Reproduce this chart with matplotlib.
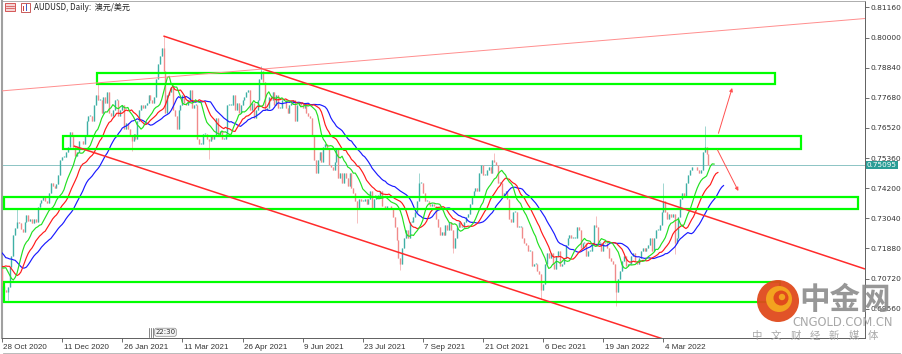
import matplotlib
matplotlib.use("Agg")
import matplotlib.pyplot as plt
from matplotlib.patches import Rectangle, Circle, FancyBboxPatch
import matplotlib.transforms as mtransforms
import numpy as np

plt.rcParams['font.family'] = ['DejaVu Sans']

# ---------------- data (daily closes) ----------------
pre_closes = [0.7230, 0.7160, 0.7150, 0.7080, 0.7080, 0.7060, 0.7030, 0.7130, 0.7110, 0.7140, 0.7110, 0.7120]

c_oct_dec20 = [0.7045, 0.7028, 0.7022, 0.7040, 0.7115, 0.7160, 0.7240, 0.7268, 0.7290, 0.7285,
               0.7262, 0.7252, 0.7290, 0.7318, 0.7292, 0.7300, 0.7288, 0.7302, 0.7290, 0.7348,
               0.7362, 0.7375, 0.7385, 0.7370, 0.7365, 0.7402, 0.7442, 0.7430, 0.7420, 0.7435,
               0.7470, 0.7530]
c_dec_jan21 = [0.7540, 0.7540, 0.7560, 0.7580, 0.7635, 0.7620, 0.7580, 0.7545, 0.7560, 0.7600,
               0.7600, 0.7590, 0.7625, 0.7680, 0.7700, 0.7700, 0.7680, 0.7740, 0.7780, 0.7760,
               0.7760, 0.7710, 0.7770, 0.7750, 0.7790, 0.7710, 0.7700, 0.7720, 0.7760, 0.7760,
               0.7700, 0.7720]
c_jan_mar21 = [0.7740, 0.7650, 0.7670, 0.7650, 0.7620, 0.7600, 0.7630, 0.7610, 0.7680, 0.7720,
               0.7740, 0.7730, 0.7740, 0.7750, 0.7780, 0.7760, 0.7750, 0.7770, 0.7840, 0.7900,
               0.7930, 0.7960, 0.7870, 0.7710, 0.7780, 0.7790, 0.7810, 0.7720, 0.7700, 0.7650,
               0.7720, 0.7740]
c_mar_apr21 = [0.7780, 0.7750, 0.7740, 0.7760, 0.7800, 0.7730, 0.7740, 0.7740, 0.7610, 0.7590,
               0.7590, 0.7630, 0.7630, 0.7610, 0.7600, 0.7620, 0.7610, 0.7620, 0.7690, 0.7620,
               0.7640, 0.7610, 0.7610, 0.7630, 0.7740, 0.7740, 0.7740, 0.7780, 0.7720, 0.7750,
               0.7710, 0.7740]
c_apr_jun21 = [0.7760, 0.7770, 0.7790, 0.7800, 0.7720, 0.7750, 0.7690, 0.7720, 0.7760, 0.7840,
               0.7870, 0.7830, 0.7720, 0.7730, 0.7770, 0.7760, 0.7790, 0.7740, 0.7780, 0.7730,
               0.7730, 0.7760, 0.7760, 0.7730, 0.7710, 0.7740, 0.7750, 0.7760, 0.7680, 0.7740,
               0.7750, 0.7740]
c_jun_jul21 = [0.7730, 0.7750, 0.7710, 0.7700, 0.7690, 0.7620, 0.7530, 0.7480, 0.7530, 0.7560,
               0.7520, 0.7580, 0.7590, 0.7570, 0.7510, 0.7500, 0.7490, 0.7520, 0.7570, 0.7460,
               0.7480, 0.7440, 0.7480, 0.7460, 0.7430, 0.7480, 0.7420, 0.7400, 0.7370, 0.7340,
               0.7380, 0.7370]
c_jul_sep21 = [0.7370, 0.7380, 0.7360, 0.7380, 0.7410, 0.7340, 0.7380, 0.7390, 0.7390, 0.7410,
               0.7350, 0.7350, 0.7340, 0.7350, 0.7350, 0.7340, 0.7310, 0.7270, 0.7220, 0.7150,
               0.7130, 0.7190, 0.7230, 0.7260, 0.7230, 0.7290, 0.7290, 0.7310, 0.7330, 0.7370,
               0.7440, 0.7440]
c_sep_oct21 = [0.7400, 0.7370, 0.7370, 0.7360, 0.7350, 0.7360, 0.7350, 0.7300, 0.7270, 0.7240,
               0.7250, 0.7240, 0.7280, 0.7260, 0.7290, 0.7260, 0.7190, 0.7230, 0.7270, 0.7290,
               0.7270, 0.7270, 0.7290, 0.7310, 0.7320, 0.7360, 0.7390, 0.7410, 0.7420, 0.7410,
               0.7480, 0.7510]
c_oct_dec21 = [0.7470, 0.7470, 0.7490, 0.7500, 0.7480, 0.7530, 0.7520, 0.7510, 0.7440, 0.7440,
               0.7390, 0.7400, 0.7410, 0.7380, 0.7300, 0.7290, 0.7330, 0.7330, 0.7270, 0.7270,
               0.7270, 0.7230, 0.7210, 0.7200, 0.7180, 0.7180, 0.7120, 0.7130, 0.7130, 0.7100,
               0.7090, 0.7030]
c_dec_jan22 = [0.7050, 0.7130, 0.7170, 0.7150, 0.7170, 0.7130, 0.7110, 0.7160, 0.7180, 0.7120,
               0.7130, 0.7150, 0.7200, 0.7230, 0.7240, 0.7230, 0.7230, 0.7230, 0.7270, 0.7260,
               0.7190, 0.7210, 0.7210, 0.7160, 0.7180, 0.7180, 0.7210, 0.7280, 0.7270, 0.7210,
               0.7210, 0.7180]
c_jan_mar22 = [0.7210, 0.7210, 0.7190, 0.7150, 0.7140, 0.7130, 0.7060, 0.7020, 0.7070, 0.7100,
               0.7140, 0.7160, 0.7120, 0.7130, 0.7130, 0.7160, 0.7170, 0.7140, 0.7130, 0.7150,
               0.7180, 0.7190, 0.7180, 0.7190, 0.7200, 0.7230, 0.7180, 0.7230, 0.7260, 0.7260,
               0.7280, 0.7330]
c_mar_apr22 = [0.7370, 0.7330, 0.7300, 0.7320, 0.7310, 0.7320, 0.7210, 0.7230, 0.7310, 0.7380,
               0.7400, 0.7390, 0.7440, 0.7470, 0.7490, 0.7500, 0.7500, 0.7500, 0.7490, 0.7480,
               0.7490, 0.7560, 0.7580, 0.7550, 0.75095]

# notable wick extremes (bar index, price)
wick_high_bars = [8, 51, 86, 138, 222, 262, 316, 352, 374]
wick_high_vals = [0.7340, 0.7820, 0.8007, 0.7891, 0.7478, 0.7556, 0.7314, 0.7441, 0.7661]
wick_low_bars = [3, 69, 110, 167, 189, 212, 240, 287, 327, 358]
wick_low_vals = [0.6991, 0.7564, 0.7532, 0.7477, 0.7288, 0.7106, 0.7170, 0.6993, 0.6967, 0.7165]

# alligator seeds (values before the first pre-close)
jaw_seed, teeth_seed, lips_seed = 0.7190, 0.7150, 0.7150

# x labels every 32 bars
date_labels = ["28 Oct 2020", "11 Dec 2020", "26 Jan 2021", "11 Mar 2021", "26 Apr 2021", "9 Jun 2021",
               "23 Jul 2021", "7 Sep 2021", "21 Oct 2021", "6 Dec 2021", "19 Jan 2022", "4 Mar 2022"]
price_ticks = [0.81160, 0.80000, 0.78840, 0.77680, 0.76520, 0.75360, 0.74200, 0.73040, 0.71880, 0.70720, 0.69560]
last_price = 0.75095

# zones: (start bar, end bar, low price, high price)
zone_start = [50.3, 32.2, 0.8, 0.8]
zone_end = [411.4, 425.3, 455.6, 414.1]
zone_low = [0.78214, 0.75723, 0.73401, 0.69801]
zone_high = [0.78649, 0.76200, 0.73851, 0.70571]

# trend lines: (bar0, price0, bar1, price1)
channel_top = (85.9, 0.80062, 459.3, 0.71091)
channel_bottom = (38.2, 0.75827, 459.3, 0.65850)
thin_line = (-0.8, 0.77944, 459.3, 0.80735)
arrow_up = (381.3, 0.76315, 388.6, 0.78060)
arrow_down = (380.8, 0.75673, 391.9, 0.74094)

# ---------------- figure ----------------
W, H = 903, 354
fig = plt.figure(figsize=(W / 100, H / 100), dpi=100)
L, R, T, B = 2, 865, 1, 338
ax = fig.add_axes([L / W, 1 - B / H, (R - L) / W, (B - T) / H])
ax.set_xlim(0.266, 459.3)
ax.set_ylim(0.68434, 0.81409)

closes = (c_oct_dec20 + c_dec_jan21 + c_jan_mar21 + c_mar_apr21 + c_apr_jun21 + c_jun_jul21 +
          c_jul_sep21 + c_sep_oct21 + c_oct_dec21 + c_dec_jan22 + c_jan_mar22 + c_mar_apr22)
n = len(closes)
closes = np.array(closes)
opens = np.concatenate([[pre_closes[-1]], closes[:-1]])
highs = np.maximum(opens, closes)
lows = np.minimum(opens, closes)
for b, v in zip(wick_high_bars, wick_high_vals):
    highs[b] = max(highs[b], v)
for b, v in zip(wick_low_bars, wick_low_vals):
    lows[b] = min(lows[b], v)
idx = np.arange(n)
up = closes >= opens
up_col, dn_col = '#3fb0a6', '#f08a8a'
ax.vlines(idx[up], lows[up], highs[up], color='#8fd0ca', lw=0.6, zorder=2)
ax.vlines(idx[~up], lows[~up], highs[~up], color='#f6b4b4', lw=0.6, zorder=2)
bh = np.maximum(closes, opens)
bl = np.minimum(closes, opens)
bh = np.where(bh - bl < 0.0003, bl + 0.0003, bh)
ax.vlines(idx[up], bl[up], bh[up], color=up_col, lw=1.0, zorder=3)
ax.vlines(idx[~up], bl[~up], bh[~up], color=dn_col, lw=1.0, zorder=3)

# alligator (SMMA of price, shifted forward)
series = np.concatenate([pre_closes, closes])
sidx = np.arange(len(series)) - len(pre_closes)

def smma(vals, period, seed):
    out = []
    s = seed
    for v in vals:
        s = (s * (period - 1) + v) / period
        out.append(s)
    return np.array(out)

jaw = smma(series, 13, jaw_seed)
teeth = smma(series, 8, teeth_seed)
lips = smma(series, 5, lips_seed)
ax.plot(sidx + 8, jaw, color='#1a1aff', lw=0.85, zorder=4)
ax.plot(sidx + 5, teeth, color='#ff1a1a', lw=0.85, zorder=5)
ax.plot(sidx + 3, lips, color='#22e022', lw=0.85, zorder=6)

# current price line
ax.axhline(last_price, color='#8cc4c4', lw=0.7, zorder=1)

# zones
for s, e, lo, hi in zip(zone_start, zone_end, zone_low, zone_high):
    ax.add_patch(Rectangle((s, lo), e - s, hi - lo, fill=False, edgecolor='#00ff00', lw=1.6, zorder=7))

# trend lines
for (x0, y0, x1, y1), col, lw in [(channel_top, '#ff2b2b', 1.1), (channel_bottom, '#ff2b2b', 1.1),
                                   (thin_line, '#ff8e8e', 0.7)]:
    ax.plot([x0, x1], [y0, y1], color=col, lw=lw, zorder=8, solid_capstyle='butt')
for (x0, y0, x1, y1) in [arrow_up, arrow_down]:
    ax.annotate('', xy=(x1, y1), xytext=(x0, y0),
                arrowprops=dict(arrowstyle='-|>', color='#ff5050', lw=0.7, mutation_scale=5,
                                shrinkA=0, shrinkB=0), zorder=9)

# axes styling
ax.set_facecolor('white')
for side in ['left', 'top']:
    ax.spines[side].set_color('#a0a0a0')
ax.spines['left'].set_linewidth(1.5)
ax.spines['top'].set_linewidth(0.6)
ax.spines['right'].set_color('#606060')
ax.spines['bottom'].set_color('#606060')
ax.spines['right'].set_linewidth(0.7)
ax.spines['bottom'].set_linewidth(0.7)
ax.yaxis.tick_right()
ax.set_yticks(price_ticks)
ax.set_yticklabels(['%.5f' % v for v in price_ticks])
ax.set_xticks(np.arange(len(date_labels)) * 32)
ax.set_xticklabels(date_labels)
ax.tick_params(axis='y', direction='out', length=3, width=0.6, colors='#555555', labelsize=5.4, pad=1,
               labelcolor='#333333')
ax.tick_params(axis='x', direction='out', length=3, width=0.6, colors='#555555', labelsize=5.8, pad=1.5,
               labelcolor='#333333')
for lbl in ax.get_xticklabels():
    lbl.set_ha('left')
    lbl.set_family(['Liberation Sans Narrow', 'Liberation Sans', 'DejaVu Sans'])
    lbl.set_transform(lbl.get_transform() + mtransforms.ScaledTranslation(1.5 / 100, 0, fig.dpi_scale_trans))

# current price label
trans = mtransforms.blended_transform_factory(ax.transAxes, ax.transData)
ax.text(1.002, last_price, '%.5f' % last_price, transform=trans, fontsize=5.2, color='white',
        va='center', ha='left', clip_on=False,
        bbox=dict(boxstyle='square,pad=0.12', fc='#2a9d96', ec='none'), zorder=20)

# ---------------- overlay (pixel coordinates) ----------------
ov = fig.add_axes([0, 0, 1, 1], zorder=10)
ov.set_xlim(0, W)
ov.set_ylim(H, 0)
ov.axis('off')
ov.patch.set_alpha(0)

# title with icons
ov.add_patch(Rectangle((5, 3), 10, 8, fc='#f4d6d6', ec='#d04040', lw=0.6))
for yy in (5.5, 8):
    ov.plot([6, 14], [yy, yy], color='#d04040', lw=0.5)
ov.add_patch(Rectangle((21, 3), 9, 9, fc='white', ec='#c04040', lw=0.6))
ov.add_patch(Rectangle((23, 6), 1.5, 5, fc='#d04040', ec='none'))
ov.add_patch(Rectangle((26, 4), 1.5, 7, fc='#4060c0', ec='none'))
ov.text(34, 7.5, 'AUDUSD, Daily:  澳元/美元', fontsize=5.8, color='#222222', va='center', ha='left',
        family=['Noto Sans CJK SC', 'DejaVu Sans'])

# time marker near bottom
for xx in (149, 151, 153):
    ov.plot([xx, xx], [328, 337], color='#555555', lw=0.5)
ov.add_patch(FancyBboxPatch((155, 328.5), 21, 7.5, boxstyle='round,pad=0.3,rounding_size=2',
                            fc='#f2f2f2', ec='#888888', lw=0.5))
ov.text(165.5, 332.5, '22:30', fontsize=5, color='#333333', ha='center', va='center')

# bottom tab bar line
ov.plot([3, 900], [352.5, 352.5], color='#b0b0b0', lw=0.6)

# watermark
ov.add_patch(Circle((778, 301), 21, fc='#e04a1c', ec='none', alpha=0.95))
ov.add_patch(Circle((779, 299), 13, fc='#f3a21f', ec='none'))
ov.add_patch(Circle((781, 298), 7.5, fc='#e04a1c', ec='none'))
ov.add_patch(Circle((782, 297), 3.2, fc='#f3a21f', ec='none'))
ov.text(845, 300, '中金网', fontsize=22, fontweight='bold', color='#8c8c8c', ha='center', va='center',
        family=['Noto Sans CJK SC', 'DejaVu Sans'], alpha=0.9)
ov.text(843, 322, 'CNGOLD.COM.CN', fontsize=8.3, color='#a8a8a8', ha='center', va='center')
for k, ch in enumerate('中文财经新媒体'):
    ov.text(757 + k * 19.3, 336, ch, fontsize=7.5, color='#a8a8a8', ha='center', va='center',
            family=['Noto Sans CJK SC', 'DejaVu Sans'])

fig.savefig('out.png', dpi=100)
